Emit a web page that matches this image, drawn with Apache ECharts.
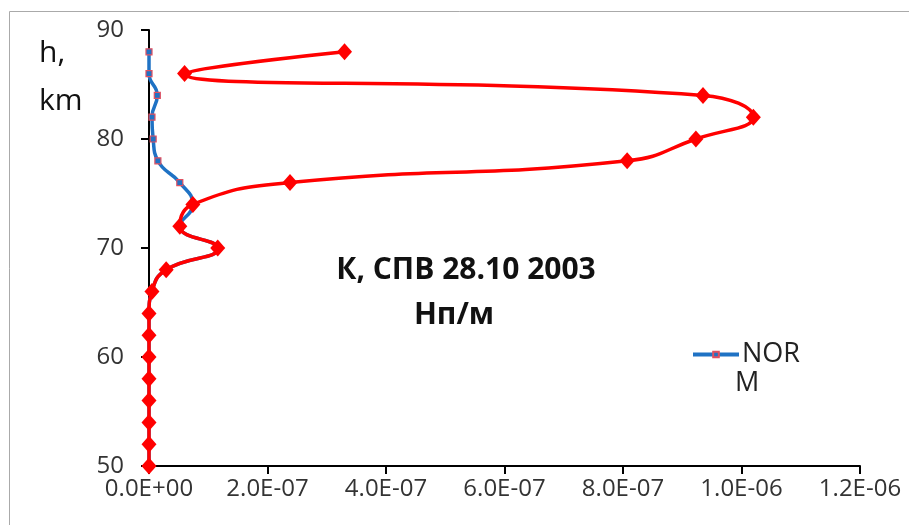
<!DOCTYPE html>
<html><head><meta charset="utf-8">
<script src="https://cdn.jsdelivr.net/npm/echarts@6/dist/echarts.min.js"></script>
<style>html,body{margin:0;padding:0;background:#fff}#c{width:909px;height:525px}</style>
</head><body><div id="c"></div>
<script>
const heights = [88,86,84,82,80,78,76,74,72,70,68,66,64,62,60,58,56,54,52,50];
const spvValues = [3.3e-7,6.0e-8,9.35e-7,1.02e-6,9.23e-7,8.07e-7,2.38e-7,7.4e-8,5.2e-8,1.16e-7,2.9e-8,5e-9,0,0,0,0,0,0,0,0];
const normValues = [0,0,1.4e-8,5e-9,7e-9,1.5e-8,5.2e-8,7.4e-8,5.2e-8,1.16e-7,2.9e-8,5e-9,0,0,0,0,0,0,0,0];
const xTickLabels = ['0.0E+00','2.0E-07','4.0E-07','6.0E-07','8.0E-07','1.0E-06','1.2E-06'];
const yTickLabels = ['50','60','70','80','90'];
const seriesName = 'NORM';
const legendLines = ['NOR','M'];
const chartTitle = ['К, СПВ 28.10 2003','Нп/м'];
const yAxisTitle = ['h,','km'];

const FONT = 'Open Sans';
const chart = echarts.init(document.getElementById('c'), null, {renderer:'canvas'});
chart.setOption({
  animation:false,
  backgroundColor:'#fff',
  grid:{left:149,right:49,top:30,bottom:59},
  xAxis:{type:'value',min:0,max:1.2e-6,interval:2e-7,
    axisLine:{show:true,lineStyle:{color:'#000',width:2}},
    axisTick:{show:true,inside:false,length:8,lineStyle:{color:'#000',width:2}},
    splitLine:{show:false},
    axisLabel:{color:'#333',fontFamily:FONT,fontSize:24,margin:11,
      formatter:v=>xTickLabels[Math.round(v/2e-7)]}},
  yAxis:{type:'value',min:50,max:90,interval:10,
    axisLine:{show:true,onZero:false,lineStyle:{color:'#000',width:2}},
    axisTick:{show:true,inside:false,length:8,lineStyle:{color:'#000',width:2}},
    splitLine:{show:false},
    axisLabel:{color:'#333',fontFamily:FONT,fontSize:24,margin:25,
      formatter:v=>yTickLabels[Math.round((v-50)/10)]}},
  legend:{data:[seriesName],left:686,top:336,itemWidth:46,itemHeight:7,itemGap:0,
    lineStyle:{width:4,color:'#1f72c4'},
    formatter:()=>legendLines[0],
    textStyle:{fontFamily:FONT,fontSize:27,color:'#222',padding:[0,0,0,-2]}},
  series:[
    {name:seriesName,type:'line',smooth:0.5,
      data:heights.map((h,i)=>[normValues[i],h]),
      symbol:'rect',symbolSize:6,showSymbol:true,
      lineStyle:{color:'#1f72c4',width:3.5},
      itemStyle:{color:'#1f72c4',borderColor:'#e05060',borderWidth:1.2},
      z:2},
    {name:'СПВ',type:'line',smooth:0.5,
      data:heights.map((h,i)=>[spvValues[i],h]),
      symbol:'diamond',symbolSize:[15,17],
      lineStyle:{color:'#ff0000',width:3.5},
      itemStyle:{color:'#ff0000'},
      z:3}
  ],
  graphic:[
    {type:'rect',shape:{x:9.5,y:11.5,width:1000,height:1000},style:{fill:null,stroke:'#aaa',lineWidth:1},silent:true},
    {type:'text',left:39,top:38,style:{text:yAxisTitle[0],font:'30px "Open Sans"',fill:'#111'}},
    {type:'text',left:39,top:86,style:{text:yAxisTitle[1],font:'30px "Open Sans"',fill:'#111'}},
    {type:'text',x:466,y:270,style:{text:chartTitle[0],font:'bold 30px "Open Sans"',fill:'#111',align:'center',verticalAlign:'middle'}},
    {type:'text',x:454,y:315,style:{text:chartTitle[1],font:'bold 30px "Open Sans"',fill:'#111',align:'center',verticalAlign:'middle'}},
    {type:'text',left:735,top:370,style:{text:legendLines[1],font:'27px "Open Sans"',fill:'#222'}}
  ]
});
</script></body></html>
